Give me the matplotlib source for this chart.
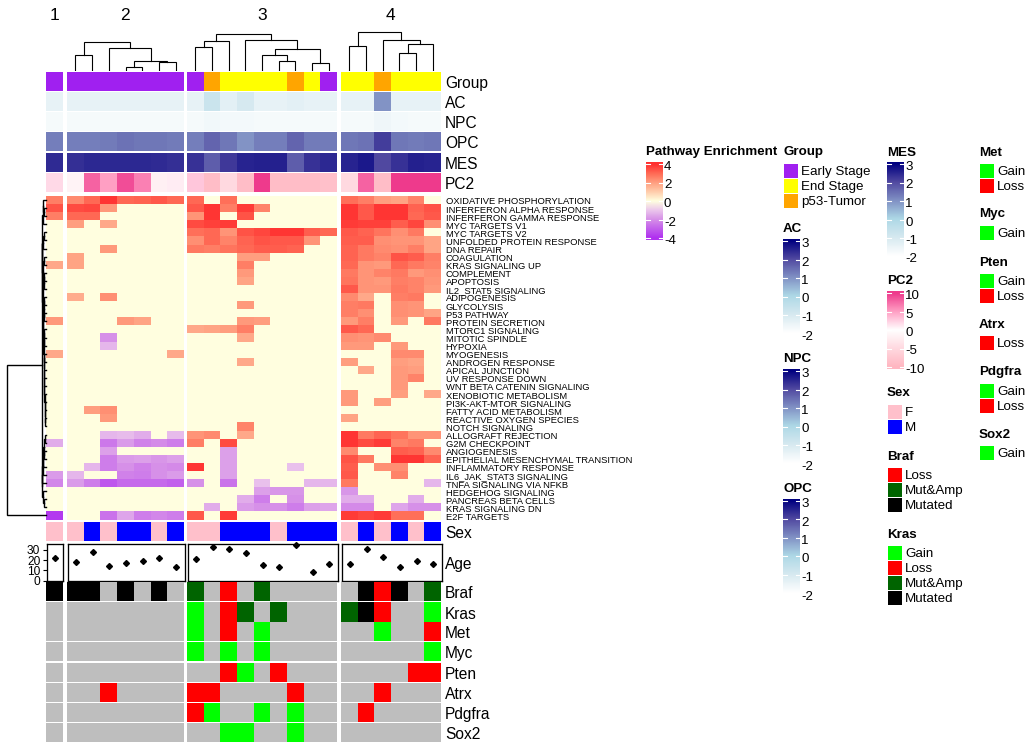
import matplotlib
matplotlib.use("Agg")
import matplotlib.pyplot as plt
from matplotlib.colors import LinearSegmentedColormap, ListedColormap, Normalize
from matplotlib.patches import Rectangle
import numpy as np

plt.rcParams['font.family'] = ['Liberation Sans', 'DejaVu Sans']

W, H = 1034, 750

# ---- data ----
group_sizes = [1, 7, 9, 6]
group_names = ["1", "2", "3", "4"]

pathways = [
    "OXIDATIVE PHOSPHORYLATION", "INFERFERON ALPHA RESPONSE", "INFERFERON GAMMA RESPONSE",
    "MYC TARGETS V1", "MYC TARGETS V2", "UNFOLDED PROTEIN RESPONSE", "DNA REPAIR", "COAGULATION",
    "KRAS SIGNALING UP", "COMPLEMENT", "APOPTOSIS", "IL2_STAT5 SIGNALING", "ADIPOGENESIS",
    "GLYCOLYSIS", "P53 PATHWAY", "PROTEIN SECRETION", "MTORC1 SIGNALING", "MITOTIC SPINDLE",
    "HYPOXIA", "MYOGENESIS", "ANDROGEN RESPONSE", "APICAL JUNCTION", "UV RESPONSE DOWN",
    "WNT BETA CATENIN SIGNALING", "XENOBIOTIC METABOLISM", "PI3K-AKT-MTOR SIGNALING",
    "FATTY ACID METABOLISM", "REACTIVE OXYGEN SPECIES", "NOTCH SIGNALING", "ALLOGRAFT REJECTION",
    "G2M CHECKPOINT", "ANGIOGENESIS", "EPITHELIAL MESENCHYMAL TRANSITION", "INFLAMMATORY RESPONSE",
    "IL6_JAK_STAT3 SIGNALING", "TNFA SIGNALING VIA NFKB", "HEDGEHOG SIGNALING",
    "PANCREAS BETA CELLS", "KRAS SIGNALING DN", "E2F TARGETS",
]

enrichment = [
    [2.6, 2.4, 3.0, 3.9, 3.0, 3.1, 3.3, 3.0, 3.0, 0, 2.9, 0, 0, 0, 0, 0, 0, 2.9, 2.6, 2.0, 1.9, 2.5, 0],
    [3.4, 3.5, 3.6, 2.1, 0, 0, 0, 0, 3.3, 3.9, 2.6, 3.8, 2.5, 0, 0, 0, 0, 3.9, 3.3, 3.9, 3.9, 3.1, 3.4],
    [2.6, 3.0, 3.0, 0, 0, 0, 0, 0, 2.2, 3.9, 0, 3.4, 0, 0, 0, 0, 0, 3.9, 3.3, 3.9, 3.9, 3.0, 3.3],
    [0, 2.0, 0, 1.8, 0, 0, 0, 0, 3.5, 3.7, 3.8, 0, 0, 0, 0, 0, 0, 3.8, 3.7, 3.7, 3.2, 3.6, 2.3],
    [0, 0, 0, 0, 0, 0, 0, 0, 2.9, 3.0, 2.2, 3.4, 3.6, 3.9, 3.9, 3.2, 3.0, 3.3, 3.1, 2.8, 2.3, 2.7, 0],
    [0, 0, 0, 0, 0, 0, 0, 0, 2.3, 3.0, 2.5, 3.1, 3.4, 3.3, 3.3, 2.2, 0, 3.2, 3.2, 2.3, 2.2, 2.2, 1.9],
    [0, 0, 0, 2.1, 0, 0, 0, 0, 2.7, 2.6, 2.8, 3.0, 3.2, 3.2, 3.1, 0, 0, 3.1, 2.7, 2.4, 2.3, 2.6, 1.9],
    [0, 1.9, 0, 0, 0, 0, 0, 0, 0, 0, 0, 2.0, 2.0, 0, 0, 0, 0, 3.1, 2.7, 2.5, 3.4, 3.2, 2.6],
    [1.8, 1.9, 0, 0, 0, 0, 0, 0, 0, 0, 0, 2.6, 0, 0, 0, 0, 0, 3.0, 2.2, 2.1, 3.0, 2.7, 2.5],
    [0, 0, 0, 0, 0, 0, 0, 0, 0, 0, 0, 2.1, 0, 0, 0, 0, 0, 2.7, 2.2, 2.5, 2.7, 2.1, 2.3],
    [0, 0, 0, 0, 0, 0, 0, 0, 0, 0, 0, 1.9, 0, 0, 0, 0, 0, 2.8, 2.2, 2.1, 2.6, 2.5, 2.2],
    [0, 0, 0, 0, 0, 0, 0, 0, 0, 0, 0, 0, 0, 0, 0, 0, 0, 3.3, 2.2, 2.2, 2.7, 2.5, 2.1],
    [0, 1.7, 0, 2.3, 0, 0, 0, 0, 0, 0, 0, 0, 0, 0, 0, 0, 0, 2.4, 1.8, 0, 2.6, 2.7, 0],
    [0, 0, 0, 0, 0, 0, 0, 0, 0, 0, 0, 2.1, 0, 0, 0, 0, 0, 2.6, 2.7, 0, 2.3, 2.2, 0],
    [0, 0, 0, 0, 0, 0, 0, 0, 0, 0, 0, 0, 0, 0, 0, 0, 0, 2.6, 2.3, 0, 2.3, 2.2, 1.9],
    [2.1, 0, 0, 0, 2.1, 1.9, 0, 0, 0, 0, 0, 2.1, 2.0, 0, 0, 0, 0, 2.1, 2.6, 0, 2.1, 0, 2.7],
    [0, 0, 0, 0, 0, 0, 0, 0, 1.8, 1.9, 2.0, 2.6, 0, 0, 0, 0, 0, 3.3, 3.0, 0, 0, 0, 0],
    [0, 0, 0, -2.0, 0, 0, 0, 0, 0, 0, 0, 1.8, 0, 0, 0, 0, 0, 2.3, 2.2, 2.4, 0, 0, 0],
    [0, 0, 0, -1.3, 0, 0, 0, 0, 0, 0, 0, 0, 0, 0, 0, 0, 0, 2.1, 2.1, 0, 2.1, 0, 0],
    [1.8, 0, 0, 0, 0, 0, 0, 1.8, 0, 0, 0, 0, 0, 0, 0, 0, 0, 0, 0, 0, 2.4, 2.4, 0],
    [0, 0, 0, 0, 0, 0, 0, 0, 0, 0, 0, 1.8, 0, 0, 0, 0, 0, 2.0, 0, 0, 2.0, 1.9, 0],
    [0, 0, 0, 0, 0, 0, 0, 0, 0, 0, 0, 0, 0, 0, 0, 0, 0, 0, 1.8, 0, 2.1, 2.0, 0],
    [0, 0, 0, 0, 0, 0, 0, 0, 0, 0, 0, 0, 0, 0, 0, 0, 0, 0, 0, 0, 2.1, 2.5, 0],
    [0, 0, 0, 0, 0, 0, 0, 0, 0, 0, 0, 0, 0, 0, 0, 0, 0, 0, 0, 0, 2.1, 0, 0],
    [0, 0, 0, 0, 0, 0, 0, 0, 0, 0, 0, 0, 0, 0, 0, 0, 0, 2.1, 0, 0, 2.0, 0, 1.8],
    [0, 0, 0, 0, 0, 0, 0, 0, 0, 0, 0, 0, 0, 0, 0, 0, 0, 2.1, 0, 2.0, 0, 0, 0],
    [0, 0, 2.0, 2.3, 0, 0, 0, 0, 0, 0, 0, 0, 0, 0, 0, 0, 0, 0, 0, 0, 0, 0, 0],
    [0, 0, 0, 2.1, 0, 0, 0, 0, 0, 0, 0, 0, 0, 0, 0, 0, 0, 1.9, 0, 0, 0, 0, 0],
    [0, 0, 0, 0, 0, 0, 0, 0, 0, 0, 0, 2.5, 0, 0, 0, 0, 0, 0, 0, 0, 0, 0, 0],
    [0, 0, 0, -1.3, -1.2, -1.5, 0, -1.2, 2.2, 2.4, 0, 1.8, 0, 0, 0, 0, 0, 3.9, 2.7, 3.1, 2.8, 2.2, 2.2],
    [-1.5, 0, 0, -2.5, -1.8, -2.3, -2.1, -2.4, 2.6, 0, 3.5, 0, 0, 0, 0, 0, 0, 3.9, 3.5, 3.8, 2.5, 2.7, 0],
    [0, 0, 0, -1.7, 0, 0, 0, 0, 0, 0, -1.7, 0, 0, 0, 0, 0, 0, 2.4, 0, 0, 3.2, 3.1, 2.4],
    [0, 0, 0, -2.4, -1.8, -1.7, -1.9, -1.7, 0, 0, -1.7, 0, 0, 0, 0, 0, 0, 3.4, 2.7, 0, 3.9, 3.9, 3.1],
    [0, 0, -1.3, -2.4, -2.0, -2.3, -2.0, -2.1, 3.9, 0, -1.7, 0, 0, 0, -1.1, 0, 0, 3.2, 0, 2.3, 2.3, 0, 0],
    [-1.8, -1.3, 0, 0, -2.3, -2.4, -2.0, -1.8, 0, 0, -1.7, 0, 0, 0, 0, 0, 0, 3.3, 0, 0, 2.5, 0, 0],
    [-2.2, -1.8, -2.4, -3.2, -2.8, -2.8, -2.8, -3.0, -2.0, 0, -2.6, 0, -1.1, 0, 0, -1.3, -1.3, 2.7, 0, 0, 0, 0, -1.3],
    [0, 0, 0, 0, 0, 0, 0, 0, 0, 0, 0, 0, -1.7, -1.9, -1.9, 0, 0, -1.9, 0, 0, 0, 0, 0],
    [0, 0, 0, 0, 0, 0, 0, 0, 0, 0, 0, -1.5, -2.4, 0, -2.0, 0, 0, -1.5, -1.5, 0, 0, -1.5, 0],
    [0, 0, 0, 0, 0, 0, 0, 0, 0, -1.5, 0, -1.8, -2.0, -2.0, -2.4, -1.7, -1.6, -2.1, -2.1, 0, -1.6, -2.0, -2.0],
    [-3.8, 0, 0, -2.6, -1.6, -2.4, -2.2, -2.4, 3.3, 0, 3.8, 0, 0, 0, 0, 0, 0, 3.8, 3.6, 3.8, 2.9, 2.9, 0],
]

group_row = ["E"] * 8 + ["E", "P", "L", "L", "L", "L", "P", "L", "E"] + ["L", "L", "P", "L", "L", "L"]
ac = [-1.4] * 8 + [-1.4, -0.7, -1.3, -1.0, -1.4, -1.4, -1.3, -1.4, -1.4] + [-1.4, -1.4, 0.95, -1.4, -1.4, -1.4]
npc = [-1.75] * 8 + [-1.75, -1.65, -1.7, -1.7, -1.75, -1.75, -1.75, -1.75, -1.75] + [-1.75, -1.75, -1.6, -1.7, -1.75, -1.75]
opc = [1.25, 1.25, 1.25, 1.3, 1.4, 1.35, 1.35, 1.3, 1.25, 1.6, 1.35, 0.95, 1.25, 1.25, 1.6, 1.3, 1.3,
       1.35, 1.4, 2.15, 1.35, 1.3, 1.35]
mes = [2.4, 2.35, 2.45, 2.45, 2.45, 2.45, 2.4, 2.35, 2.3, 1.7, 2.2, 2.5, 2.55, 2.55, 1.7, 2.3, 2.45,
       2.5, 2.65, 2.0, 2.3, 2.55, 2.5]
pc2 = [2.0, -1.5, 8, 5, 9, 6.5, -2, 1, 3.0, -9, -5, -9, 10, -9, -9, -9, -8.5, -5, 8, -9, 10, 10, 10]
sex = ["F", "F", "M", "F", "M", "M", "F", "M", "F", "F", "M", "M", "M", "F", "M", "M", "M",
       "F", "M", "F", "M", "F", "M"]
age = [22, 18, 28, 14, 17, 19, 22, 13, 21, 33, 31, 27, 15, 13, 35, 8, 16, 16, 31, 23, 13, 19, 16]

# 0 none, 1 loss, 2 gain, 3 mut&amp, 4 mutated
braf = [4, 4, 4, 0, 4, 0, 4, 0, 3, 0, 1, 0, 3, 0, 0, 0, 0, 0, 4, 1, 4, 0, 3]
kras = [0] * 8 + [2, 0, 1, 3, 0, 3, 0, 0, 0] + [3, 4, 1, 0, 0, 2]
met = [0] * 8 + [2, 0, 1, 0, 2, 0, 0, 0, 0] + [0, 0, 2, 0, 0, 1]
myc = [0] * 8 + [2, 0, 2, 0, 2, 0, 0, 0, 0] + [0, 0, 0, 0, 0, 2]
pten = [0] * 8 + [0, 0, 1, 2, 0, 1, 0, 0, 0] + [0, 0, 0, 0, 1, 1]
atrx = [0, 0, 0, 1, 0, 0, 0, 0] + [1, 1, 0, 0, 0, 0, 1, 0, 0] + [0, 0, 1, 0, 0, 0]
pdgfra = [0] * 8 + [1, 2, 0, 0, 2, 0, 2, 0, 0] + [0, 1, 0, 0, 0, 0]
sox2 = [0] * 8 + [0, 0, 2, 2, 0, 0, 2, 0, 0] + [0] * 6

# trees are (height, left, right), ints are leaves
col_tree_2 = (28.4, (15.7, 0, 1), (22.4, 2, (9.7, (3.7, 3, 4), (8.4, 5, 6))))
col_tree_3 = (36.7, (29.4, (23.4, 0, 1), 2),
              (30.7, 3, (21.4, (15.4, 4, (9.4, 5, 6)), (7.4, 7, 8))))
col_tree_4 = (38.4, (24.4, 0, 1), (30.7, 2, (26.7, (17.4, 3, 4), 5)))

tree_chain = (1.3, 21, (1.2, 22, (1.1, 23, (1.0, 24, (0.9, 25, (0.8, 26, (0.7, 27, 28)))))))
tree_a5 = (2.0, (1.6, (1.1, 16, 17), 18), (1.7, (1.4, 19, 20), tree_chain))
tree_a4 = (2.4, (1.8, (1.2, 12, 13), (1.2, 14, 15)), tree_a5)
tree_a3 = (2.8, (2.2, (1.6, 7, 8), (1.6, (1.2, 9, 10), 11)), tree_a4)
tree_a2 = (3.2, (2.4, (1.6, 4, 5), 6), tree_a3)
tree_a1 = (3.0, (2.6, 0, (2.0, 1, 2)), 3)
tree_b1 = (3.1, 35, (2.6, 34, (2.1, 33, (1.8, (1.0, 29, 30), (1.2, 31, 32)))))
tree_b2 = (2.3, 36, (1.4, 37, 38))
row_tree = (38.2, (4.0, (3.6, tree_a1, tree_a2), (3.4, tree_b1, tree_b2)), 39)

# ---- colours ----
def ramp(stops, vmin, vmax):
    pos = [(v - vmin) / (vmax - vmin) for v, c in stops]
    return LinearSegmentedColormap.from_list("r", list(zip(pos, [c for v, c in stops])), N=256)

path_cmap = ramp([(-4, "#B030F0"), (-3, "#C260EC"), (-2, "#D690E8"), (-1, "#EBC6EC"), (0, "#FFFFE0"),
                  (1, "#FFCDAC"), (2, "#FF9F80"), (3, "#FF6A55"), (4, "#FF3030")], -4, 4)
blue_cmap = ramp([(-2, "#FFFFFF"), (-1, "#D6E9F0"), (0, "#ADD8E6"), (1, "#8090C4"),
                  (2, "#5048A0"), (3, "#000080")], -2, 3)
pink_cmap = ramp([(-10, "#FFB6C1"), (-5, "#FFD9E0"), (0, "#FFFFFF"), (5, "#FFA0C4"), (10, "#EE3A8C")], -10, 10)
group_colors = {"E": "#A020F0", "L": "#FFFF00", "P": "#FFA500"}
sex_colors = {"F": "#FFC0CB", "M": "#0000FF"}
gene_cmap = ListedColormap(["#BEBEBE", "#FF0000", "#00FF00", "#006400", "#000000"])

# ---- layout in pixels ----
group_x = [(46, 63), (67, 184), (187, 337), (341, 441)]

fig = plt.figure(figsize=(W / 100, H / 100), dpi=100)
overlay = fig.add_axes([0, 0, 1, 1], zorder=5)
overlay.set_xlim(0, W)
overlay.set_ylim(H, 0)
overlay.axis("off")


def pixel_axes(x0, x1, y0, y1):
    return fig.add_axes([x0 / W, 1 - y1 / H, (x1 - x0) / W, (y1 - y0) / H])


def band(values, y0, y1, cmap, norm, label=None):
    # values has one row per y step, drawn once per column group
    values = np.atleast_2d(np.array(values, dtype=float))
    start = 0
    for (x0, x1), n in zip(group_x, group_sizes):
        ax = pixel_axes(x0, x1, y0, y1)
        ax.pcolormesh(values[:, start:start + n], cmap=cmap, norm=norm, antialiased=False, linewidth=0)
        ax.invert_yaxis()
        ax.axis("off")
        start += n
    if label:
        overlay.text(445, (y0 + y1) / 2 + 2.4, label, fontsize=11.2, va="center", ha="left")


def tree_pos(node, lines):
    if isinstance(node, int):
        return node + 0.5, 0
    h, left, right = node
    a, ha = tree_pos(left, lines)
    b, hb = tree_pos(right, lines)
    lines.append(([a, a, b, b], [ha, h, h, hb]))
    return (a + b) / 2, h


def draw_col_tree(tree, x0, x1, n):
    ax = pixel_axes(x0, x1, 20, 70.7)
    lines = []
    tree_pos(tree, lines)
    for xs, hs in lines:
        ax.plot(xs, hs, color="black", lw=0.8, solid_joinstyle="miter")
    ax.set_xlim(0, n)
    ax.set_ylim(0, 50.7)
    ax.axis("off")


# ---- annotations on top ----
group_index = {"E": 0, "L": 1, "P": 2}
band([group_index[g] for g in group_row], 72, 91, ListedColormap(list(group_colors.values())),
     Normalize(0, 2), "Group")
blue_norm = Normalize(-2, 3)
band(ac, 92, 111, blue_cmap, blue_norm, "AC")
band(npc, 112, 131, blue_cmap, blue_norm, "NPC")
band(opc, 132, 151, blue_cmap, blue_norm, "OPC")
band(mes, 153, 172, blue_cmap, blue_norm, "MES")
band(pc2, 173, 192, pink_cmap, Normalize(-10, 10), "PC2")

# ---- main heatmap ----
band(enrichment, 196, 519.5, path_cmap, Normalize(-4, 4))
row_h = (519.5 - 196) / len(pathways)
for i, name in enumerate(pathways):
    overlay.text(445.5, 196 + row_h * (i + 0.5) + 1.9, name, fontsize=6.72, va="center", ha="left")

# ---- sex, age, genes ----
sex_index = {"F": 0, "M": 1}
band([sex_index[s] for s in sex], 522, 541, ListedColormap(list(sex_colors.values())), Normalize(0, 1), "Sex")

start = 0
for k, ((x0, x1), n) in enumerate(zip(group_x, group_sizes)):
    ax = pixel_axes(x0 + 0.5, x1 + 0.5, 543.5, 580.5)
    ax.plot(np.arange(n) + 0.5, age[start:start + n], "D", color="black", ms=3.0, clip_on=False)
    ax.set_xlim(0, n)
    ax.set_ylim(0, 36.3)
    ax.set_xticks([])
    for s in ax.spines.values():
        s.set_linewidth(0.95)
    if k == 0:
        ax.set_yticks([0, 10, 20, 30])
        ax.tick_params(axis="y", labelsize=8.6, length=3, width=0.8, pad=1.5)
    else:
        ax.set_yticks([])
    start += n
overlay.text(445, 565, "Age", fontsize=11.2, va="center", ha="left")

gene_rows = [("Braf", braf, 582, 601), ("Kras", kras, 602, 621.5), ("Met", met, 622, 641),
             ("Myc", myc, 642, 661), ("Pten", pten, 663, 682), ("Atrx", atrx, 683, 702),
             ("Pdgfra", pdgfra, 703, 722), ("Sox2", sox2, 723, 742)]
for name, vals, y0, y1 in gene_rows:
    band(vals, y0, y1, gene_cmap, Normalize(0, 4), name)

# ---- dendrograms ----
draw_col_tree(col_tree_2, *group_x[1], group_sizes[1])
draw_col_tree(col_tree_3, *group_x[2], group_sizes[2])
draw_col_tree(col_tree_4, *group_x[3], group_sizes[3])

ax = pixel_axes(7, 45.5, 196, 519.5)
lines = []
tree_pos(row_tree, lines)
for ys, hs in lines:
    ax.plot(hs, ys, color="black", lw=1.0, solid_joinstyle="miter", clip_on=False)
ax.set_xlim(38.5, 0)
ax.set_ylim(len(pathways), 0)
ax.axis("off")

for name, (x0, x1) in zip(group_names, group_x):
    overlay.text((x0 + x1) / 2 - 0.3, 16, name, fontsize=12.5, ha="center", va="center")


# ---- legends ----
def color_legend(x, y, title, cmap, vmin, vmax, ticks):
    overlay.text(x, y + 0.5, title, fontsize=9.6, fontweight="bold", va="center", ha="left")
    tick_top = y + 12
    step = 18.5
    bottom = tick_top + step * (len(ticks) - 1)
    ax = pixel_axes(x, x + 16.5, tick_top - 2, bottom + 2)
    per_px = (vmax - vmin) / (bottom - tick_top)
    grad = np.linspace(vmax + 2 * per_px, vmin - 2 * per_px, 256).reshape(-1, 1)
    ax.imshow(grad, cmap=cmap, vmin=vmin, vmax=vmax, aspect="auto",
              extent=[0, 1, bottom + 2, tick_top - 2])
    for i, t in enumerate(ticks):
        ty = tick_top + step * i
        ax.plot([0, 0.22], [ty, ty], color="white", lw=0.8)
        ax.plot([0.78, 1], [ty, ty], color="white", lw=0.8)
        overlay.text(x + 18, ty + 3, str(t), fontsize=9.6, va="center", ha="left")
    ax.set_xlim(0, 1)
    ax.set_ylim(bottom + 2, tick_top - 2)
    ax.axis("off")


def swatch_legend(x, y, title, items):
    overlay.text(x, y + 0.5, title, fontsize=9.6, fontweight="bold", va="center", ha="left")
    top = y + 11
    for i, (name, col) in enumerate(items):
        overlay.add_patch(Rectangle((x + 1, top + 15 * i + 0.5), 14, 14, facecolor=col, edgecolor="none"))
        overlay.text(x + 18, top + 15 * i + 8.8, name, fontsize=9.6, va="center", ha="left")


gain, loss, mutamp, mutated = ("Gain", "#00FF00"), ("Loss", "#FF0000"), ("Mut&Amp", "#006400"), ("Mutated", "#000000")

color_legend(646, 152, "Pathway Enrichment", path_cmap, -4, 4, [4, 2, 0, -2, -4])
swatch_legend(783, 152, "Group", [("Early Stage", "#A020F0"), ("End Stage", "#FFFF00"), ("p53-Tumor", "#FFA500")])
color_legend(783, 229, "AC", blue_cmap, -2, 3, [3, 2, 1, 0, -1, -2])
color_legend(783, 359, "NPC", blue_cmap, -2, 3, [3, 2, 1, 0, -1, -2])
color_legend(783, 489, "OPC", blue_cmap, -2, 3, [3, 2, 1, 0, -1, -2])
color_legend(887, 152, "MES", blue_cmap, -2, 3, [3, 2, 1, 0, -1, -2])
color_legend(887, 281, "PC2", pink_cmap, -10, 10, [10, 5, 0, -5, -10])
swatch_legend(887, 393, "Sex", [("F", "#FFC0CB"), ("M", "#0000FF")])
swatch_legend(887, 456, "Braf", [loss, mutamp, mutated])
swatch_legend(887, 534, "Kras", [gain, loss, mutamp, mutated])
swatch_legend(979, 152, "Met", [gain, loss])
swatch_legend(979, 214, "Myc", [gain])
swatch_legend(979, 262, "Pten", [gain, loss])
swatch_legend(979, 324, "Atrx", [loss])
swatch_legend(979, 372, "Pdgfra", [gain, loss])
swatch_legend(979, 434, "Sox2", [gain])

fig.savefig("out.png", dpi=100)
